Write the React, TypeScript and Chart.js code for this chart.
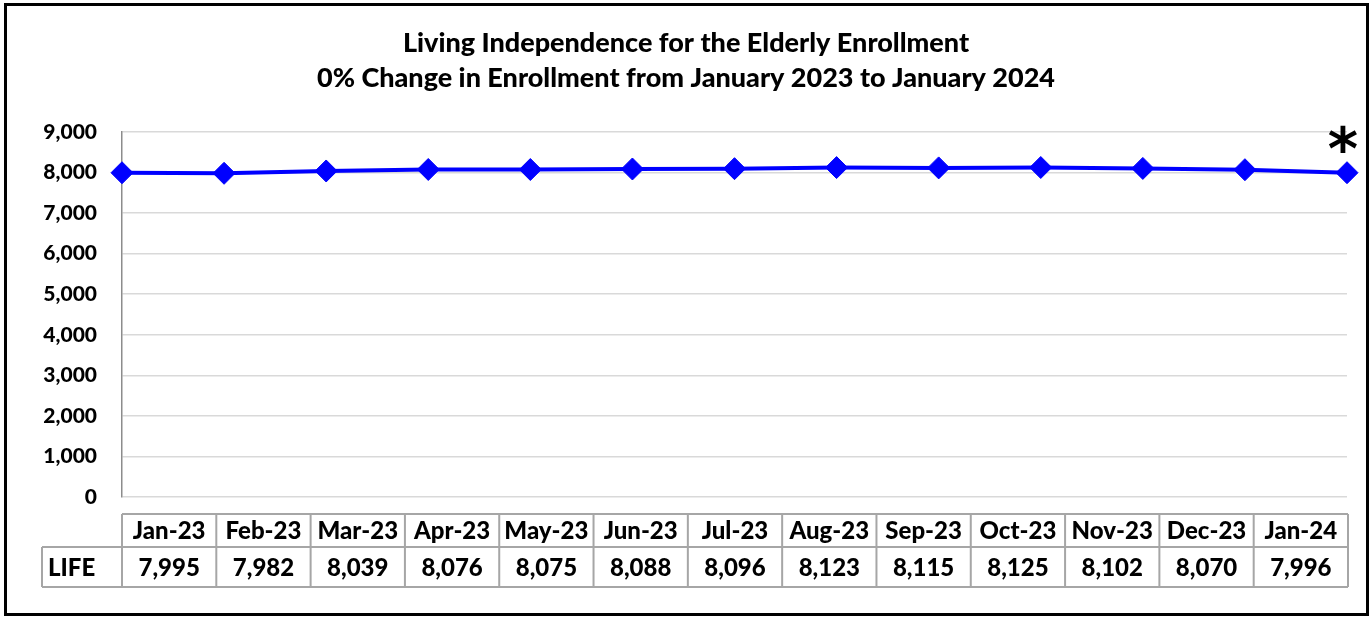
import React, { useEffect, useRef } from "react";
import { Chart, registerables } from "chart.js";
Chart.register(...registerables);

const months = ["Jan-23", "Feb-23", "Mar-23", "Apr-23", "May-23", "Jun-23", "Jul-23", "Aug-23", "Sep-23", "Oct-23", "Nov-23", "Dec-23", "Jan-24"];
const lifeValues = [7995, 7982, 8039, 8076, 8075, 8088, 8096, 8123, 8115, 8125, 8102, 8070, 7996];
const seriesName = "LIFE";
const titleLines = [
  "Living Independence for the Elderly Enrollment",
  "0% Change in Enrollment from January 2023 to January 2024",
];
const yMin = 0;
const yMax = 9000;
const yStep = 1000;
const markNote = "*";

const W = 1371;
const H = 617;
const FONT = "Lato";
const WEIGHT = "900";
const fmt = (v: number) => v.toLocaleString("en-US");

const decor = {
  id: "decor",
  afterDraw(chart: any) {
    const ctx = chart.ctx as CanvasRenderingContext2D;
    const { left, right } = chart.chartArea;
    ctx.save();
    // outer border
    ctx.strokeStyle = "#000";
    ctx.lineWidth = 3;
    ctx.strokeRect(5.5, 4.5, W - 9, H - 7);
    // title
    ctx.fillStyle = "#000";
    ctx.textAlign = "center";
    ctx.textBaseline = "middle";
    ctx.font = `${WEIGHT} 27px ${FONT}`;
    ctx.fillText(titleLines[0], 686, 43);
    ctx.fillText(titleLines[1], 686, 78);
    // table
    const n = months.length;
    const cw = (right + 1 - left) / n;
    const t0 = 514, t1 = 547, t2 = 587, labelLeft = 42;
    ctx.strokeStyle = "#a6a6a6";
    ctx.lineWidth = 2;
    ctx.beginPath();
    ctx.moveTo(left, t0); ctx.lineTo(right + 1, t0);
    ctx.moveTo(labelLeft, t1); ctx.lineTo(right + 1, t1);
    ctx.moveTo(labelLeft, t2); ctx.lineTo(right + 1, t2);
    ctx.moveTo(labelLeft, t1); ctx.lineTo(labelLeft, t2);
    for (let i = 0; i <= n; i++) {
      const x = left + i * cw;
      ctx.moveTo(x, t0); ctx.lineTo(x, t2);
    }
    ctx.stroke();
    ctx.fillStyle = "#000";
    ctx.font = `${WEIGHT} 24px ${FONT}`;
    for (let i = 0; i < n; i++) {
      const cx = left + (i + 0.5) * cw;
      ctx.fillText(months[i], cx, (t0 + t1) / 2 + 1);
      ctx.fillText(fmt(lifeValues[i]), cx, (t1 + t2) / 2 + 1);
    }
    ctx.textAlign = "left";
    ctx.fillText(seriesName, 48, (t1 + t2) / 2 + 1);
    // asterisk
    const xs = chart.scales.x;
    const ys = chart.scales.y;
    const lx = xs.getPixelForValue(n - 1);
    const ly = ys.getPixelForValue(lifeValues[n - 1]);
    ctx.textAlign = "center";
    ctx.textBaseline = "alphabetic";
    ctx.font = `bold 58px "DejaVu Sans"`;
    ctx.fillText(markNote, lx - 4, ly - 4);
    ctx.restore();
  },
};

export default function App() {
  const ref = useRef<HTMLCanvasElement>(null);
  useEffect(() => {
    document.body.style.margin = "0";
    const chart = new Chart(ref.current!, {
      type: "line",
      data: {
        labels: months,
        datasets: [
          {
            label: seriesName,
            data: lifeValues,
            borderColor: "#0000ff",
            backgroundColor: "#0000ff",
            borderWidth: 4,
            pointStyle: "rectRot",
            pointRadius: 11,
            pointBorderWidth: 1,
            tension: 0,
          },
        ],
      },
      options: {
        responsive: false,
        animation: false,
        layout: { padding: { top: 132, left: 10, right: 24, bottom: 0 } },
        plugins: { legend: { display: false }, title: { display: false }, tooltip: { enabled: false } },
        scales: {
          x: {
            offset: false,
            grid: { display: false },
            border: { display: false },
            ticks: { display: false },
            afterFit: (s: any) => { s.height = 120; },
          },
          y: {
            min: yMin,
            max: yMax,
            ticks: {
              stepSize: yStep,
              color: "#000",
              padding: 25,
              font: { family: FONT, weight: WEIGHT as any, size: 21 },
              callback: (v: any) => fmt(Number(v)),
            },
            grid: { color: "#d9d9d9", lineWidth: 1.5, drawTicks: false },
            border: { color: "#8c8c8c", width: 1.5 },
            afterFit: (s: any) => { s.width = 112; },
          },
        },
      },
      plugins: [decor],
    });
    return () => chart.destroy();
  }, []);
  return <canvas ref={ref} width={W} height={H} style={{ display: "block" }} />;
}
